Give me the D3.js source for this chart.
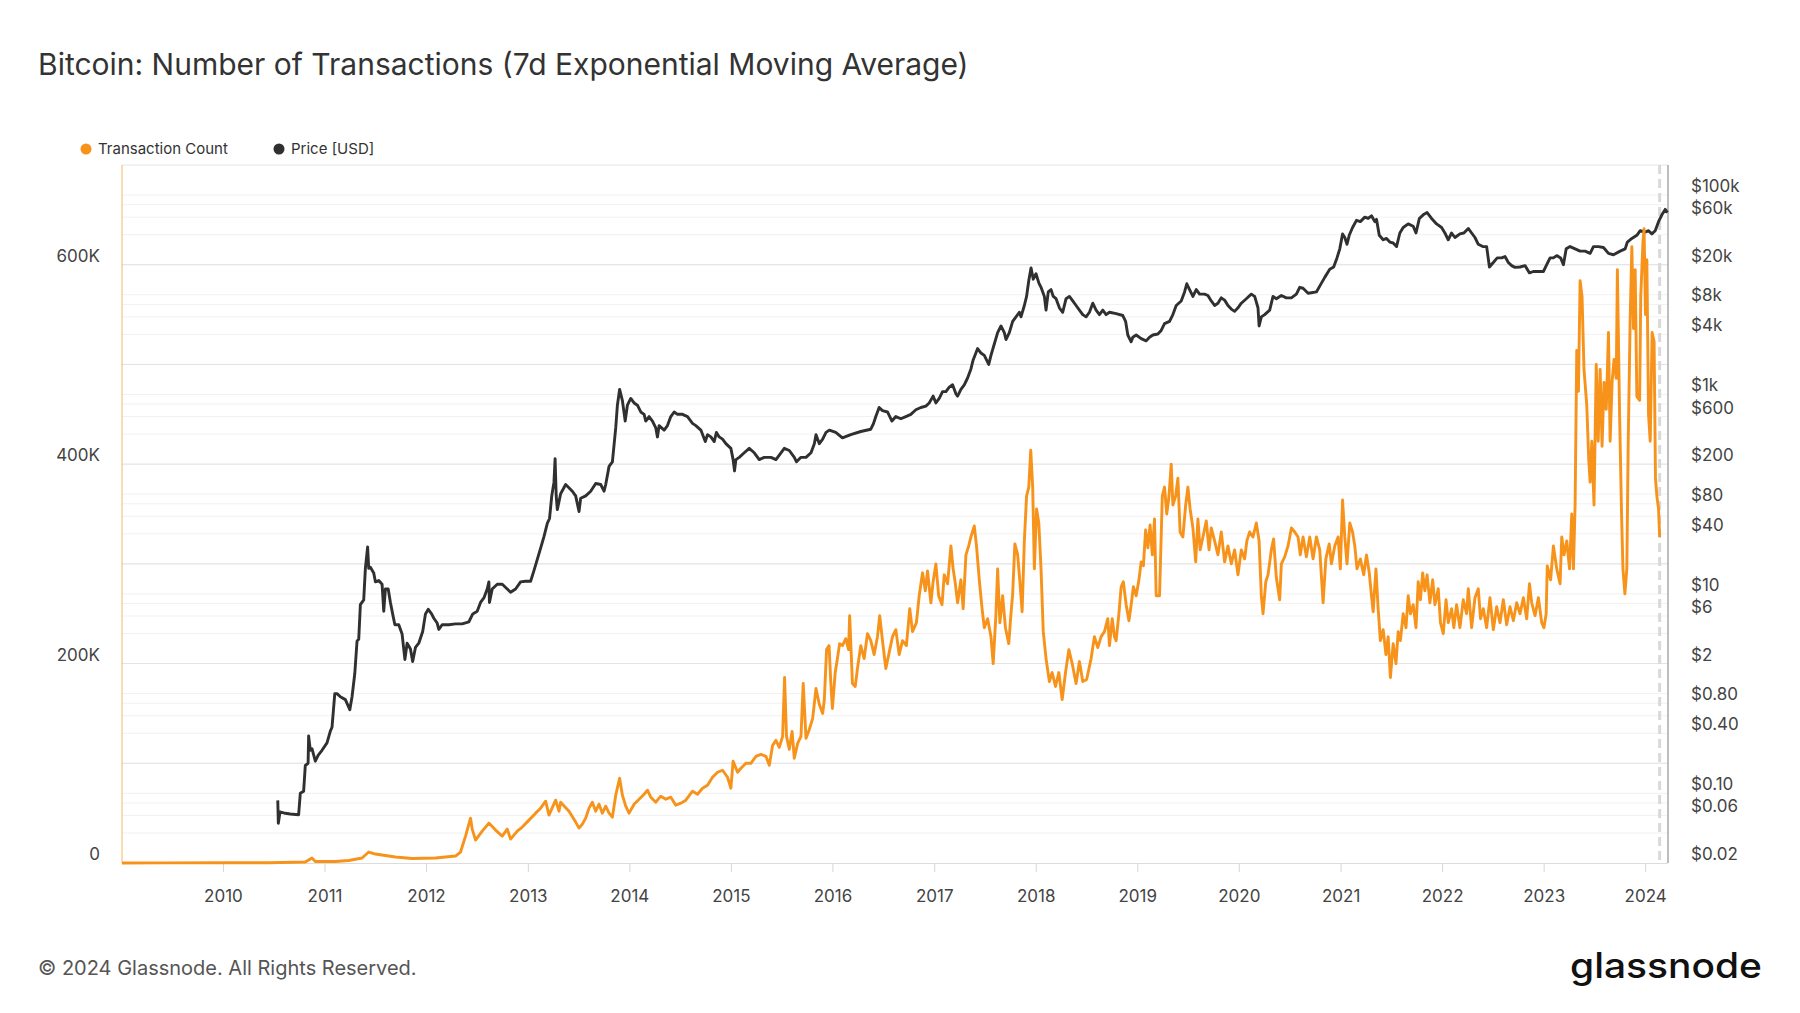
<!DOCTYPE html>
<html>
<head>
<meta charset="utf-8">
<script src="https://cdn.jsdelivr.net/npm/d3@7"></script>
<style>
  body { margin: 0; background: #fff; }
  #chart svg { display: block; font-family: Inter, "Noto Sans", sans-serif; }
</style>
</head>
<body>
<div id="chart"></div>
<script>
// ---- data ----
// transaction count, 7d EMA, in thousands
let txDates = [
  '2009-01-03','2009-06-01','2010-01-01','2010-06-14','2010-10-24','2010-11-17','2010-11-29',
  '2011-02-09','2011-03-29','2011-05-16','2011-06-09','2011-07-03','2011-09-13','2011-11-12',
  '2012-02-04','2012-04-16','2012-05-04','2012-05-22','2012-06-09','2012-06-15','2012-06-27','2012-07-21','2012-08-14','2012-09-07','2012-10-01','2012-10-19','2012-10-31','2012-11-24','2012-12-12',
  '2013-01-05','2013-01-29','2013-02-16','2013-03-06','2013-03-18','2013-04-11','2013-04-23','2013-04-29','2013-05-29','2013-06-22','2013-07-04','2013-07-16','2013-07-28','2013-08-09','2013-08-21','2013-09-02','2013-09-14','2013-09-26','2013-10-08','2013-10-20','2013-11-01','2013-11-13','2013-11-27','2013-12-07','2013-12-19','2013-12-31',
  '2014-01-18','2014-02-05','2014-02-23','2014-03-07','2014-03-19','2014-04-06','2014-04-24','2014-05-12','2014-05-30','2014-06-17','2014-07-05','2014-07-23','2014-08-16','2014-09-03','2014-09-21','2014-10-09','2014-10-27','2014-11-14','2014-12-02','2014-12-20',
  '2015-01-01','2015-01-09','2015-01-25','2015-02-06','2015-02-24','2015-03-14','2015-04-01','2015-04-19','2015-05-07','2015-05-19','2015-05-31','2015-06-12','2015-06-24','2015-07-06','2015-07-13','2015-07-20','2015-07-30','2015-08-09','2015-08-17','2015-08-29','2015-09-10','2015-09-18','2015-09-28','2015-10-10','2015-10-22','2015-11-03','2015-11-15','2015-11-27','2015-12-03','2015-12-11','2015-12-20','2015-12-26',
  '2016-01-01','2016-01-11','2016-01-19','2016-01-27','2016-02-06','2016-02-18','2016-02-28','2016-03-03','2016-03-13','2016-03-23','2016-03-31','2016-04-12','2016-04-24','2016-05-06','2016-05-18','2016-05-30','2016-06-11','2016-06-19','2016-06-29','2016-07-11','2016-07-23','2016-08-04','2016-08-16','2016-08-28','2016-09-09','2016-09-23','2016-10-05','2016-10-15','2016-10-29','2016-11-08','2016-11-20','2016-11-30','2016-12-08','2016-12-20','2016-12-28',
  '2017-01-07','2017-01-17','2017-01-29','2017-02-06','2017-02-18','2017-03-02','2017-03-10','2017-03-18','2017-03-26','2017-04-07','2017-04-15','2017-04-25','2017-05-05','2017-05-13','2017-05-25','2017-06-02','2017-06-12','2017-06-22','2017-06-30','2017-07-12','2017-07-24','2017-08-01','2017-08-11','2017-08-17','2017-08-25','2017-09-04','2017-09-14','2017-09-26','2017-10-04','2017-10-10','2017-10-18','2017-10-28','2017-11-05','2017-11-13','2017-11-21','2017-11-29','2017-12-07','2017-12-14','2017-12-21','2017-12-27',
  '2018-01-04','2018-01-12','2018-01-20','2018-01-28','2018-02-07','2018-02-19','2018-03-01','2018-03-13','2018-03-25','2018-04-06','2018-04-18','2018-04-30','2018-05-12','2018-05-26','2018-06-07','2018-06-19','2018-07-03','2018-07-19','2018-07-31','2018-08-12','2018-08-24','2018-09-05','2018-09-17','2018-09-23','2018-10-03','2018-10-11','2018-10-17','2018-10-27','2018-11-04','2018-11-12','2018-11-22','2018-12-02','2018-12-10','2018-12-18','2018-12-28',
  '2019-01-07','2019-01-15','2019-01-23','2019-01-31','2019-02-08','2019-02-16','2019-02-24','2019-03-04','2019-03-10','2019-03-22','2019-04-01','2019-04-09','2019-04-17','2019-04-25','2019-05-03','2019-05-09','2019-05-19','2019-05-27','2019-06-04','2019-06-14','2019-06-24','2019-07-02','2019-07-10','2019-07-20','2019-07-30','2019-08-07','2019-08-15','2019-08-25','2019-09-06','2019-09-16','2019-09-24','2019-10-06','2019-10-18','2019-10-30','2019-11-11','2019-11-23','2019-12-05','2019-12-17','2019-12-29',
  '2020-01-10','2020-01-22','2020-01-30','2020-02-09','2020-02-21','2020-03-04','2020-03-14','2020-03-22','2020-03-28','2020-04-07','2020-04-15','2020-04-27','2020-05-05','2020-05-15','2020-05-27','2020-06-02','2020-06-14','2020-06-26','2020-07-08','2020-07-20','2020-08-01','2020-08-09','2020-08-19','2020-08-31','2020-09-12','2020-09-24','2020-10-06','2020-10-18','2020-10-30','2020-11-09','2020-11-21','2020-11-29','2020-12-11','2020-12-23','2020-12-31',
  '2021-01-08','2021-01-16','2021-01-24','2021-02-03','2021-02-13','2021-02-21','2021-03-01','2021-03-13','2021-03-25','2021-04-04','2021-04-14','2021-04-22','2021-04-28','2021-05-08','2021-05-16','2021-05-24','2021-06-03','2021-06-13','2021-06-21','2021-06-29','2021-07-09','2021-07-19','2021-07-27','2021-08-04','2021-08-14','2021-08-24','2021-09-01','2021-09-09','2021-09-19','2021-09-29','2021-10-07','2021-10-15','2021-10-23','2021-10-31','2021-11-08','2021-11-18','2021-11-28','2021-12-06','2021-12-18','2021-12-26',
  '2022-01-05','2022-01-15','2022-01-23','2022-02-04','2022-02-12','2022-02-22','2022-03-06','2022-03-18','2022-03-30','2022-04-05','2022-04-17','2022-04-29','2022-05-11','2022-05-19','2022-05-29','2022-06-10','2022-06-22','2022-07-04','2022-07-16','2022-07-28','2022-08-09','2022-08-21','2022-09-02','2022-09-14','2022-09-26','2022-10-08','2022-10-20','2022-11-01','2022-11-11','2022-11-19','2022-12-01','2022-12-13','2022-12-25',
  '2023-01-02','2023-01-10','2023-01-14','2023-01-26','2023-02-05','2023-02-17','2023-03-01','2023-03-07','2023-03-15','2023-03-25','2023-04-04','2023-04-12','2023-04-18','2023-04-24','2023-04-30','2023-05-06','2023-05-12','2023-05-19','2023-05-26','2023-06-05','2023-06-12','2023-06-17','2023-06-23','2023-07-01','2023-07-09','2023-07-16','2023-07-23','2023-07-30','2023-08-06','2023-08-14','2023-08-22','2023-08-28','2023-09-04','2023-09-11','2023-09-19','2023-09-23','2023-10-01','2023-10-08','2023-10-13','2023-10-20','2023-10-27','2023-11-01','2023-11-08','2023-11-14','2023-11-20','2023-11-26','2023-12-02','2023-12-12','2023-12-16','2023-12-24','2023-12-28',
  '2024-01-02','2024-01-07','2024-01-13','2024-01-19','2024-01-26','2024-02-02','2024-02-07','2024-02-12','2024-02-18','2024-02-22'
];
let txCountK = [
  0, 0.1, 0.2, 0.3, 1.0, 5, 1.5,
  1.5, 2.5, 5, 11, 9, 6, 4.5,
  5, 7, 11, 27, 45, 34, 23, 32, 40, 33, 27, 34, 24, 32, 36,
  43, 50, 55, 62, 48, 63, 52, 61, 52, 41, 35, 39, 45, 55, 61, 52, 59, 50, 57, 50, 46, 68, 85, 68, 57, 50,
  59, 64, 69, 73, 66, 61, 67, 64, 66, 58, 60, 63, 72, 69, 75, 78, 86, 91, 93, 86,
  75, 102, 91, 95, 100, 100, 107, 109, 107, 98, 118, 123, 116, 127, 186, 127, 114, 132, 105, 120, 127, 180, 125, 134, 145, 175, 159, 150, 164, 214, 218, 182,
  155, 191, 205, 220, 218, 225, 214, 248, 180, 177, 195, 218, 205, 230, 223, 209, 227, 248, 223, 195, 211, 227, 234, 209, 223, 218, 255, 232, 241, 268, 291, 273, 293, 261, 282,
  300, 268, 259, 289, 280, 318, 295, 280, 261, 284, 255, 309, 318, 327, 338, 318, 284, 255, 236, 245, 227, 200, 250, 295, 241, 268, 236, 220, 250, 270, 320, 309, 282, 252, 323, 368, 377, 414, 377, 295,
  355, 341, 295, 232, 205, 182, 191, 177, 191, 164, 191, 214, 200, 180, 202, 182, 184, 205, 227, 216, 227, 232, 245, 218, 245, 227, 223, 250, 277, 282, 259, 243, 259, 277, 268,
  284, 302, 298, 334, 316, 339, 309, 345, 268, 268, 368, 377, 350, 368, 400, 359, 368, 386, 332, 327, 359, 377, 355, 336, 302, 345, 314, 327, 343, 314, 336, 323, 309, 332, 302, 318, 300, 314, 289,
  314, 305, 323, 332, 327, 341, 323, 268, 250, 282, 289, 314, 325, 286, 264, 300, 307, 318, 336, 332, 327, 309, 327, 307, 327, 305, 327, 314, 261, 305, 320, 300, 318, 327, 295,
  364, 327, 300, 341, 332, 318, 295, 305, 289, 309, 291, 268, 252, 295, 255, 223, 234, 209, 227, 186, 220, 200, 232, 223, 250, 236, 268, 250, 259, 236, 282, 264, 291, 273, 289, 261, 284, 259, 275, 241,
  230, 264, 241, 255, 236, 259, 236, 264, 250, 275, 236, 266, 275, 245, 255, 236, 266, 234, 257, 241, 264, 239, 257, 243, 261, 250, 266, 245, 280, 261, 248, 266, 241,
  236, 250, 298, 284, 318, 295, 280, 327, 309, 323, 295, 350, 295, 359, 514, 473, 584, 568, 495, 459, 405, 382, 423, 359, 500, 423, 495, 418, 482, 455, 532, 423, 482, 505, 486, 595, 450, 350, 295, 270, 295, 423, 545, 618, 536, 595, 468, 464, 568, 623, 636,
  550, 605, 450, 423, 532, 523, 386, 368, 355, 327
];

// price in USD (log axis)
let priceDates = [
  '2010-07-17','2010-07-19','2010-07-25','2010-08-13','2010-08-31','2010-09-30','2010-10-06','2010-10-18','2010-10-24','2010-11-03','2010-11-05','2010-11-11','2010-11-17','2010-11-29','2010-12-09','2010-12-23',
  '2011-01-10','2011-01-22','2011-01-28','2011-02-07','2011-02-15','2011-02-27','2011-03-17','2011-04-02','2011-04-10','2011-04-20','2011-04-28','2011-05-04','2011-05-10','2011-05-22','2011-05-28','2011-06-05','2011-06-09','2011-06-15','2011-06-27','2011-07-03','2011-07-15','2011-07-27','2011-08-02','2011-08-08','2011-08-18','2011-08-26','2011-09-03','2011-09-11','2011-09-25','2011-10-07','2011-10-17','2011-10-25','2011-10-31','2011-11-06','2011-11-14','2011-11-24','2011-12-06','2011-12-20','2011-12-30',
  '2012-01-09','2012-01-21','2012-01-29','2012-02-10','2012-02-16','2012-02-28','2012-03-23','2012-04-16','2012-05-10','2012-06-03','2012-06-17','2012-07-03','2012-07-15','2012-07-27','2012-08-08','2012-08-14','2012-08-16','2012-08-26','2012-09-13','2012-10-01','2012-10-19','2012-10-31','2012-11-18','2012-12-06','2012-12-24',
  '2013-01-11','2013-01-23','2013-02-04','2013-02-16','2013-02-28','2013-03-12','2013-03-20','2013-03-28','2013-04-05','2013-04-09','2013-04-13','2013-04-17','2013-04-29','2013-05-17','2013-06-10','2013-06-22','2013-07-04','2013-07-10','2013-07-28','2013-08-15','2013-09-02','2013-09-20','2013-10-02','2013-10-08','2013-10-20','2013-11-01','2013-11-13','2013-11-19','2013-11-27','2013-12-07','2013-12-17','2013-12-25',
  '2014-01-06','2014-01-18','2014-01-30','2014-02-11','2014-02-23','2014-03-01','2014-03-13','2014-03-25','2014-04-06','2014-04-12','2014-04-18','2014-05-06','2014-05-18','2014-05-30','2014-06-11','2014-06-23','2014-07-11','2014-07-29','2014-08-16','2014-08-28','2014-09-15','2014-10-01','2014-10-09','2014-10-21','2014-11-02','2014-11-10','2014-11-20','2014-12-02','2014-12-14',
  '2015-01-01','2015-01-09','2015-01-14','2015-01-19','2015-01-31','2015-02-18','2015-03-08','2015-03-26','2015-04-13','2015-05-01','2015-05-25','2015-06-12','2015-06-30','2015-07-12','2015-07-30','2015-08-17','2015-08-25','2015-09-10','2015-09-28','2015-10-16','2015-10-28','2015-11-03','2015-11-15','2015-11-27','2015-12-09','2015-12-21',
  '2016-01-13','2016-02-06','2016-03-07','2016-04-12','2016-05-18','2016-05-28','2016-06-05','2016-06-17','2016-06-29','2016-07-17','2016-08-02','2016-08-16','2016-09-03','2016-09-21','2016-10-09','2016-10-27','2016-11-14','2016-12-02','2016-12-14','2016-12-28',
  '2017-01-07','2017-01-19','2017-01-31','2017-02-12','2017-02-24','2017-03-08','2017-03-20','2017-03-26','2017-04-07','2017-04-19','2017-05-01','2017-05-13','2017-05-21','2017-06-06','2017-06-18','2017-06-30','2017-07-16','2017-07-24','2017-08-05','2017-08-17','2017-08-29','2017-09-10','2017-09-16','2017-09-28','2017-10-10','2017-10-22','2017-11-03','2017-11-09','2017-11-21','2017-11-29','2017-12-07','2017-12-15','2017-12-23',
  '2018-01-02','2018-01-12','2018-01-20','2018-02-01','2018-02-07','2018-02-15','2018-02-25','2018-03-05','2018-03-15','2018-03-27','2018-04-08','2018-04-20','2018-05-02','2018-05-14','2018-05-26','2018-06-07','2018-06-19','2018-07-01','2018-07-13','2018-07-25','2018-08-06','2018-08-18','2018-08-30','2018-09-11','2018-09-23','2018-10-17','2018-11-10','2018-11-20','2018-11-28','2018-12-10','2018-12-16','2018-12-28',
  '2019-01-15','2019-02-02','2019-02-14','2019-02-26','2019-03-16','2019-03-28','2019-04-09','2019-04-27','2019-05-09','2019-05-21','2019-06-08','2019-06-20','2019-06-28','2019-07-08','2019-07-20','2019-08-01','2019-08-13','2019-08-31','2019-09-12','2019-09-24','2019-10-06','2019-10-18','2019-10-30','2019-11-11','2019-11-23','2019-12-05','2019-12-17','2019-12-29',
  '2020-01-10','2020-01-28','2020-02-15','2020-02-27','2020-03-10','2020-03-14','2020-03-22','2020-04-03','2020-04-21','2020-05-03','2020-05-15','2020-06-02','2020-06-20','2020-07-08','2020-07-26','2020-08-07','2020-08-19','2020-09-06','2020-09-18','2020-10-06','2020-10-20','2020-11-05','2020-11-23','2020-12-07','2020-12-19','2020-12-29',
  '2021-01-08','2021-01-16','2021-01-24','2021-02-01','2021-02-13','2021-02-27','2021-03-13','2021-03-29','2021-04-10','2021-04-22','2021-05-04','2021-05-10','2021-05-20','2021-06-03','2021-06-15','2021-06-27','2021-07-09','2021-07-21','2021-08-02','2021-08-14','2021-09-01','2021-09-19','2021-09-29','2021-10-11','2021-10-25','2021-11-08','2021-11-24','2021-12-12','2021-12-30',
  '2022-01-11','2022-01-23','2022-02-04','2022-02-16','2022-03-06','2022-03-20','2022-04-05','2022-04-17','2022-04-29','2022-05-11','2022-05-27','2022-06-10','2022-06-20','2022-07-04','2022-07-18','2022-08-03','2022-08-15','2022-08-27','2022-09-08','2022-09-20','2022-10-08','2022-10-26','2022-11-11','2022-11-25','2022-12-13','2022-12-31',
  '2023-01-12','2023-01-24','2023-02-05','2023-02-17','2023-03-03','2023-03-13','2023-03-23','2023-04-06','2023-04-24','2023-05-12','2023-05-30','2023-06-17','2023-06-29','2023-07-17','2023-08-04','2023-08-22','2023-09-09','2023-10-03','2023-10-21','2023-10-29','2023-11-14','2023-12-02','2023-12-14',
  '2024-01-01','2024-01-13','2024-01-25','2024-02-06','2024-02-18','2024-03-01','2024-03-13','2024-03-21'
];
let priceUsd = [
  0.085, 0.05, 0.065, 0.063, 0.062, 0.061, 0.1, 0.105, 0.19, 0.2, 0.375, 0.27, 0.28, 0.21, 0.24, 0.27,
  0.32, 0.42, 0.46, 1.0, 1.0, 0.93, 0.87, 0.69, 0.93, 1.6, 3.37, 3.5, 7.8, 8.7, 18, 29.5, 18, 18.5, 16.2, 13.2, 13.6, 12.5, 6.7, 11.2, 11.2, 8.2, 6.3, 4.9, 4.9, 3.95, 2.2, 3.2, 3.0, 2.8, 2.1, 2.9, 3.2, 4.2, 6.3,
  7.0, 6.3, 5.7, 5.1, 4.4, 4.9, 4.9, 5.0, 5.0, 5.24, 6.3, 6.7, 8.2, 9.1, 11.2, 13.2, 8.2, 11.2, 12.5, 12.5, 11.2, 10.4, 11.2, 13.2, 13.4,
  13.4, 17.1, 22.2, 28.8, 37.5, 51, 57, 96, 132, 227, 96, 70, 101, 125, 107, 96, 67, 91, 96, 107, 128, 125, 107, 125, 190, 211, 462, 780, 1125, 866, 541, 780,
  912, 822, 780, 667, 632, 541, 600, 541, 462, 375, 487, 439, 487, 600, 667, 632, 632, 600, 513, 487, 439, 337, 395, 375, 337, 416, 375, 356, 321,
  288, 222, 171, 222, 234, 260, 288, 260, 222, 234, 234, 222, 260, 288, 274, 234, 211, 234, 234, 260, 321, 395, 321, 356, 416, 439,
  416, 367, 395, 425, 448, 513, 600, 740, 688, 667, 541, 600, 570, 600, 632, 702, 740, 764, 822, 962,
  822, 912, 1067, 1067, 1185, 1249, 1014, 962, 1125, 1249, 1462, 1803, 2220, 2885, 2600, 2467, 2000, 2467, 3206, 4160, 4865, 4160, 3557, 4160, 5410, 6000, 6670, 6000, 7800, 9616, 13870, 18580, 14320,
  16230, 13160, 11860, 9616, 7020, 10670, 11250, 9616, 9120, 7400, 6670, 9120, 9616, 8660, 7800, 7020, 6320, 6000, 6670, 8220, 7020, 6320, 7020, 6320, 6670, 6460, 6190, 5410, 3946, 3375, 3750, 3946,
  3630, 3445, 3750, 3946, 4035, 4387, 5130, 5410, 6320, 7800, 8660, 10670, 12880, 11250, 9616, 11250, 10140, 10140, 9820, 8660, 7800, 8220, 9310, 8830, 7800, 7180, 6810, 7400,
  8220, 9120, 10140, 9616, 7400, 4865, 6000, 6320, 7020, 9616, 9120, 9820, 9310, 9310, 10140, 11860, 11610, 10350, 10470, 10670, 12480, 14930, 18030, 18970, 23400, 28840,
  40740, 37500, 32070, 39450, 47200, 55750, 54090, 60000, 58200, 61950, 54090, 57000, 39450, 35570, 36700, 33740, 33040, 30400, 41600, 47200, 51300, 48660, 41600, 58200, 63250, 66700, 58200, 51300, 47200,
  41600, 35570, 41600, 37500, 40740, 41600, 46200, 41600, 37500, 32070, 30400, 30400, 18970, 21080, 23400, 23400, 24150, 21080, 19590, 18800, 18970, 19590, 16560, 17100, 17100, 17100,
  20000, 23400, 23400, 24680, 23400, 20000, 28840, 30400, 28840, 27370, 27370, 26000, 30400, 30400, 29790, 26000, 25180, 27370, 28840, 33740, 36700, 39450, 43860,
  42470, 43860, 40740, 43860, 54090, 63250, 71760, 66700
];

// axes
let xStart = '2009-01-03';
let xEnd = '2024-03-23';
let markerDate = '2024-02-22';
let yearTicks = [2010, 2011, 2012, 2013, 2014, 2015, 2016, 2017, 2018, 2019, 2020, 2021, 2022, 2023, 2024];
let countTicksK = [0, 200, 400, 600];
let countGridK = [100, 200, 300, 400, 500, 600];
let priceTicks = [100000, 60000, 20000, 8000, 4000, 1000, 600, 200, 80, 40, 10, 6, 2, 0.8, 0.4, 0.1, 0.06, 0.02];
let priceGridSteps = [1, 2, 4, 6, 8];

let dim = {
    'width': 1800,
    'height': 1013,
    'left': 122,
    'right': 1668,
    'top': 165,
    'bottom': 863
};

let colors = { tx: '#f7931a', price: '#303030', text: '#444' };

let svg = d3.select('#chart').append('svg')
    .attr('width', dim.width)
    .attr('height', dim.height);

let parseDate = d3.timeParse('%Y-%m-%d');

let txData = txDates.map((d, i) => ({ date: parseDate(d), value: txCountK[i] }));
let priceData = priceDates.map((d, i) => ({ date: parseDate(d), value: priceUsd[i] }));

let scaleX = d3.scaleTime()
    .domain([parseDate(xStart), parseDate(xEnd)])
    .range([dim.left, dim.right]);

let scaleCount = d3.scaleLinear()
    .domain([0, 700])
    .range([dim.bottom, dim.top]);

let scalePrice = d3.scaleLog()
    .domain([0.02, 200000])
    .range([dim.bottom, dim.top]);

// log grid: 1,2,4,6,8 x 10^k
let priceGrid = [];
for (let k = -2; k <= 5; k++) {
    priceGridSteps.forEach(s => {
        let v = +(s * Math.pow(10, k)).toPrecision(3);
        if (v > 0.02 && v < 200000) priceGrid.push(v);
    });
}

let grid = svg.append('g');

grid.selectAll('.pgrid')
    .data(priceGrid)
    .join('line')
    .attr('x1', dim.left).attr('x2', dim.right)
    .attr('y1', d => scalePrice(d)).attr('y2', d => scalePrice(d))
    .attr('stroke', '#f1f1f1')
    .attr('stroke-width', 1);

grid.selectAll('.cgrid')
    .data(countGridK)
    .join('line')
    .attr('x1', dim.left).attr('x2', dim.right)
    .attr('y1', d => scaleCount(d)).attr('y2', d => scaleCount(d))
    .attr('stroke', '#e3e3e3')
    .attr('stroke-width', 1);

// frame
svg.append('line')
    .attr('x1', dim.left).attr('x2', dim.right)
    .attr('y1', dim.top).attr('y2', dim.top)
    .attr('stroke', '#e6e6e6');
svg.append('line')
    .attr('x1', dim.left).attr('x2', dim.right)
    .attr('y1', dim.bottom + 0.5).attr('y2', dim.bottom + 0.5)
    .attr('stroke', '#dcdcdc');

// x axis
let axisX = svg.append('g')
    .attr('transform', `translate(0,${dim.bottom})`)
    .call(d3.axisBottom(scaleX)
        .tickValues(yearTicks.map(y => new Date(y, 0, 1)))
        .tickSize(9)
        .tickPadding(18)
        .tickFormat(d3.timeFormat('%Y')));
axisX.select('.domain').remove();
axisX.selectAll('line').attr('stroke', '#d6d6d6');
axisX.selectAll('text')
    .attr('fill', colors.text)
    .style('font-size', '17px')
    .style('font-family', 'Inter, sans-serif');

// left axis (transaction count)
let axisY = svg.append('g')
    .attr('transform', `translate(${dim.left},0)`)
    .call(d3.axisLeft(scaleCount)
        .tickValues(countTicksK)
        .tickSize(0)
        .tickPadding(22)
        .tickFormat(d => d === 0 ? '0' : d + 'K'));
axisY.select('.domain').remove();
axisY.selectAll('text')
    .attr('y', -9)
    .attr('fill', colors.text)
    .style('font-size', '17px')
    .style('font-family', 'Inter, sans-serif');

// right axis (price)
let formatPrice = v => {
    if (v >= 1000) return '$' + (v / 1000) + 'k';
    if (v >= 1) return '$' + v;
    return '$' + v.toFixed(2);
};
let axisY2 = svg.append('g')
    .attr('transform', `translate(${dim.right},0)`)
    .call(d3.axisRight(scalePrice)
        .tickValues(priceTicks)
        .tickSize(0)
        .tickPadding(23)
        .tickFormat(formatPrice));
axisY2.select('.domain').remove();
axisY2.selectAll('text')
    .attr('y', -9)
    .attr('fill', colors.text)
    .style('font-size', '17px')
    .style('font-family', 'Inter, sans-serif');

// side borders
svg.append('line')
    .attr('x1', dim.left).attr('x2', dim.left)
    .attr('y1', dim.top).attr('y2', dim.bottom)
    .attr('stroke', colors.tx).attr('stroke-opacity', 0.45).attr('stroke-width', 1.5);
svg.append('line')
    .attr('x1', dim.right).attr('x2', dim.right)
    .attr('y1', dim.top).attr('y2', dim.bottom)
    .attr('stroke', '#a8a8a8').attr('stroke-width', 1.5);

// dashed marker
svg.append('line')
    .attr('x1', scaleX(parseDate(markerDate))).attr('x2', scaleX(parseDate(markerDate)))
    .attr('y1', dim.top).attr('y2', dim.bottom)
    .attr('stroke', '#d9d9d9').attr('stroke-width', 3)
    .attr('stroke-dasharray', '9,5');

// series
let priceLine = d3.line()
    .x(d => scaleX(d.date))
    .y(d => scalePrice(d.value));

let txLine = d3.line()
    .x(d => scaleX(d.date))
    .y(d => scaleCount(d.value));

svg.append('path')
    .datum(priceData)
    .attr('d', priceLine)
    .attr('fill', 'none')
    .attr('stroke', colors.price)
    .attr('stroke-width', 2.9)
    .attr('stroke-linejoin', 'round');

svg.append('path')
    .datum(txData)
    .attr('d', txLine)
    .attr('fill', 'none')
    .attr('stroke', colors.tx)
    .attr('stroke-width', 2.9)
    .attr('stroke-linejoin', 'round');

// title
svg.append('text')
    .attr('x', 38).attr('y', 75)
    .attr('fill', '#333')
    .style('font-size', '30px')
    .style('font-weight', 400)
    .text('Bitcoin: Number of Transactions (7d Exponential Moving Average)');

// legend
let legendItems = [
    { label: 'Transaction Count', color: colors.tx, x: 86 },
    { label: 'Price [USD]', color: colors.price, x: 279 }
];
let legend = svg.append('g').selectAll('g')
    .data(legendItems)
    .join('g')
    .attr('transform', d => `translate(${d.x},149)`);
legend.append('circle')
    .attr('r', 5.5)
    .attr('fill', d => d.color);
legend.append('text')
    .attr('x', 12).attr('dy', '0.35em')
    .attr('fill', '#333')
    .style('font-size', '15px')
    .text(d => d.label);

// footer
svg.append('text')
    .attr('x', 38).attr('y', 975)
    .attr('fill', '#555')
    .style('font-size', '20px')
    .text('© 2024 Glassnode. All Rights Reserved.');

svg.append('text')
    .attr('x', 1570).attr('y', 978)
    .attr('fill', '#111')
    .attr('textLength', 192)
    .attr('lengthAdjust', 'spacingAndGlyphs')
    .style('font-size', '35px')
    .style('font-weight', 500)
    .text('glassnode');
</script>
</body>
</html>
